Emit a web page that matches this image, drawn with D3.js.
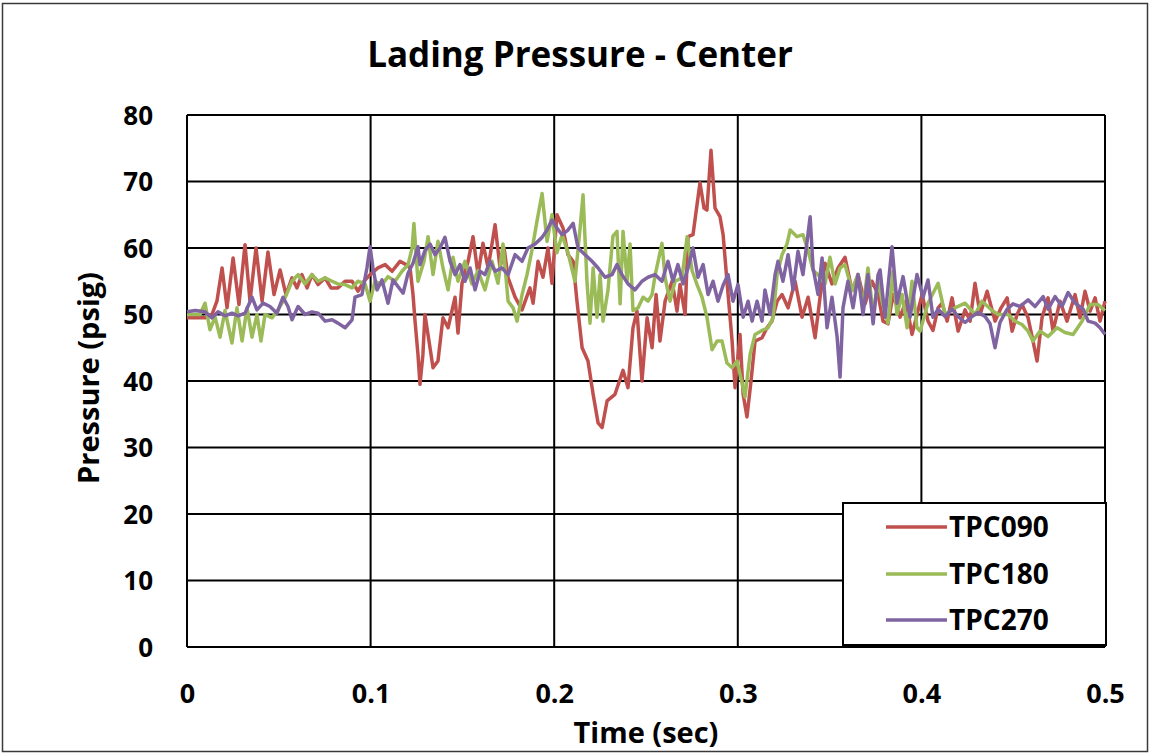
<!DOCTYPE html>
<html><head><meta charset="utf-8">
<script src="https://cdn.jsdelivr.net/npm/d3@7"></script>
<style>
html,body{margin:0;padding:0;background:#fff;}
text{font-family:"Open Sans",Lato,sans-serif;font-weight:bold;fill:#000;}
</style></head>
<body>
<svg id="chart" width="1151" height="754"></svg>
<script>
// time in milliseconds, value in psig
const timeMs090 = [0,4.4,9.8,13.6,16.3,19.1,21.8,25.1,28.3,31.6,34.3,37.6,40.9,44.1,47.4,50.7,53.9,57.2,59.9,62.6,65.4,68.1,71.4,75.2,78.4,82.2,86.1,89.9,93.1,96.4,99.7,104.0,107.9,111.7,116.0,119.3,121.5,123.1,124.2,125.8,126.9,128.5,129.6,131.8,134.0,136.7,139.4,142.2,146.0,147.6,149.8,153.1,155.8,158.5,161.2,164.0,167.8,170.5,172.7,174.9,178.7,182.5,186.8,188.5,191.2,193.9,196.6,198.8,201.5,204.8,207.5,210.3,212.4,215.2,218.4,221.2,223.9,226.1,228.8,233.1,237.5,240.2,242.9,245.1,247.8,250.6,253.3,255.5,257.6,260.4,264.2,266.9,268.5,271.3,272.9,275.6,279.4,281.6,283.2,285.4,287.6,290.3,292.0,294.1,296.9,298.5,301.2,302.9,305.0,307.2,309.4,313.2,315.9,318.6,321.4,324.1,327.4,331.2,335.0,338.3,342.1,344.8,347.5,351.3,354.6,358.4,362.2,365.5,369.3,373.1,376.4,379.1,381.8,384.6,388.4,391.6,394.9,397.6,400.4,403.6,406.3,409.1,411.3,414.0,416.7,420.0,423.8,426.5,429.2,432.0,435.8,440.1,443.4,446.7,449.4,452.1,454.8,458.1,460.8,463.0,465.7,469.0,471.7,475.5,479.3,483.7,486.4,489.1,491.9,494.6,497.3,500.0];
const valTPC090 = [49.5,49.5,49.5,50,52,57,51,58.5,51.5,60.5,52,60,52,59.4,53,56.7,53,55.5,54,56,54,56,54.5,55.5,54,54,55,55,53.5,55,56,57,57.5,56.5,58,57.5,57,53,49,44,39.5,44,50,46,42,43,49.5,48,52.6,47.2,54.7,58,61.7,56,60.7,57,63.5,57,60,55.5,52.6,50.7,54,51.7,58,55.6,60,54.7,65,63,59,58,52,45,43,38,33.7,33,37,38,41.6,39,48,50.5,40,49.5,45,53,46,52,55,50.5,54.5,50,61.7,62,69.8,66,65.7,74.7,66,64.7,62,55,46,39,47,38,34.6,40,46,46.5,48,49,52,53,51,55,49.6,52.6,46.5,52.6,57.7,54.6,57,58.6,53.6,56,51.6,55,53,49,48.6,53,49.6,52,47,50,53,49,47.6,51,51.7,49,52.5,47.5,50.7,49,54.7,50,53.5,49,51,52.5,47.5,50,51.5,49.5,46,43,49.5,52.5,47.5,52,49,53,49.5,53.5,50.5,52.5,49,52];

const timeMs180 = [0,7.1,9.8,12.5,15.3,18.0,20.7,24.5,27.2,30.0,32.7,35.4,38.1,40.3,42.5,46.3,49.6,53.4,57.2,60.5,64.3,68.1,71.4,75.2,79.0,82.2,86.1,89.9,93.1,97.0,99.7,102.4,106.2,109.5,113.3,117.1,120.4,122.6,123.6,125.8,126.9,129.1,131.3,134.0,136.7,139.4,142.2,144.9,147.6,151.4,155.2,158.5,162.3,166.1,169.4,172.1,174.9,177.6,179.8,182.5,185.2,187.9,190.6,193.4,196.1,198.8,201.5,204.3,207.5,211.3,214.1,215.7,217.9,219.5,221.2,223.3,225.0,226.6,229.3,232.0,234.2,235.9,237.5,239.7,241.3,242.9,245.7,248.4,251.1,253.3,254.9,258.7,260.4,263.1,265.8,269.6,272.4,275.1,277.8,280.5,283.2,286.0,288.7,291.4,294.1,296.9,299.6,302.3,303.9,306.7,309.4,313.2,316.5,319.2,321.4,324.1,326.8,328.5,332.3,335.5,338.3,341.0,343.7,347.5,350.2,353.0,355.7,358.4,362.2,365.5,368.2,370.9,373.7,376.4,378.6,381.8,384.6,386.7,389.5,392.2,394.9,397.6,399.3,403.6,409.1,412.9,418.3,423.8,429.2,433.0,438.5,441.8,447.2,451.0,454.8,458.1,460.8,464.6,469.0,473.9,478.2,482.6,487.5,491.9,496.2,500.0];
const valTPC180 = [50,50,51.7,47.7,49.6,46.6,50.6,45.7,51,46,51,46.6,50,46,50,49.5,50.7,52.5,55,56,54.6,56,55,55.5,55,54.6,54.5,54,55,54.6,52,55,54.5,55.7,55,56.5,57.5,60,63.7,55,56,58,61.7,56,61,57,53.7,58.6,55,58,54.6,56.6,53.7,58,54.7,60.6,52,51,49,53,56,59.7,64,68.2,61,65,59.3,62,59.3,55,63,68,54.7,48.7,57,49.6,56,49,53.7,61.8,62.5,51.6,62.5,55,60.6,50.6,51,52.6,52,53,55.8,60.7,55.5,52,55,55.5,61.7,56.6,54.5,52.6,49.6,44.7,46,46,42.7,42,43,39.7,37.6,44,47,47.6,48,49.5,56,59,60.6,62.7,61.7,62,59.6,56.6,56,54.6,58.6,54.6,57,57.5,53.6,56,51,57,50,55,52,48.7,56.5,50,53,48,55,48,47.5,51.7,54.7,50,51,51.7,50,52,50.6,50,50,49,48.5,47.5,46,47.5,46.7,48,47.3,47,49,51.5,51.5,50.6];

const timeMs270 = [0,4.4,9.8,13.6,16.9,20.7,24.5,27.8,31.6,35.4,38.1,41.4,45.2,49.0,52.3,55.0,57.2,60.5,64.3,68.1,71.4,75.2,79.0,82.2,86.1,89.9,91.5,95.3,98.0,99.7,101.3,103.5,106.2,109.5,112.2,114.9,117.7,120.4,123.1,125.8,126.9,129.6,132.4,135.1,137.8,140.5,143.3,146.0,148.7,151.4,154.2,156.9,159.6,162.3,165.0,167.8,171.6,174.9,178.7,182.5,185.7,189.6,193.4,196.1,198.8,201.5,204.3,207.5,210.3,213.0,216.8,220.6,223.9,227.7,231.5,234.2,236.9,240.2,244.0,247.8,251.1,254.9,258.7,262.0,264.7,267.4,270.2,272.9,275.6,278.3,281.1,283.8,286.5,289.2,292.0,294.7,297.4,300.1,302.9,305.6,307.8,310.5,313.2,314.8,317.6,320.3,321.9,324.6,327.4,330.1,332.8,335.5,339.4,341.0,343.7,345.9,348.6,351.3,354.1,355.7,357.3,360.0,362.8,365.5,368.2,370.9,373.7,376.4,377.5,380.2,384.0,386.7,390.0,393.8,397.6,400.9,403.6,406.3,409.1,412.9,416.7,420.0,423.8,427.6,430.8,434.7,437.4,440.1,442.8,446.7,449.9,453.7,458.1,461.9,466.3,469.0,472.8,476.6,479.9,483.7,488.1,490.8,494.6,497.3,500.0];
const valTPC270 = [50.4,50.6,50.4,49.5,50.4,49.8,50.2,49.8,50.2,52.6,50.7,51.7,51.2,50.2,52.6,51.2,49.2,51.2,50,50.4,50.2,49,49.2,48.7,48,49.2,52.6,53,57,60.2,57,53.7,55.2,51.7,55.2,54.2,53.2,56.2,57.7,60.2,57.5,59.6,60.6,59,60,61.6,58,56,57.5,55,57,53.7,56.5,56,58,56.5,57,56,59,58,60,60.6,61.6,62.7,64.2,63,62,62.7,63.7,60,59,58,57,55.6,56,57.5,56,54.6,53.7,55,55.6,56,55,58,55,57.5,54.6,57,60,55.6,57.5,53,55,52,54.4,56,52,54.5,49.6,52,49,52,49,53.7,50,56,58,55,59,53.7,59.5,56,64.7,57,53,58.5,48,52.6,46.6,40.6,51,55,51,56,50,56,48.6,56,56.7,49.6,60.2,51.7,55.7,49.6,56,52.6,55.2,49.6,50.8,49.7,50.8,49.7,48.8,49.7,50.3,49.7,48.6,45,48.8,50.8,51.6,51.2,52.2,51.2,52.7,50.8,52.7,51.2,53.3,51.7,50.8,49,48.7,48,47];

const seriesNames = ["TPC090","TPC180","TPC270"];
const seriesColors = ["#C0504D","#9BBB59","#8064A2"];
const xTicks = [0,0.1,0.2,0.3,0.4,0.5];
const yTicks = [0,10,20,30,40,50,60,70,80];
const titleText = "Lading Pressure - Center";
const xTitle = "Time (sec)";
const yTitle = "Pressure (psig)";

const seriesData = [
  {name: seriesNames[0], color: seriesColors[0], t: timeMs090, v: valTPC090},
  {name: seriesNames[1], color: seriesColors[1], t: timeMs180, v: valTPC180},
  {name: seriesNames[2], color: seriesColors[2], t: timeMs270, v: valTPC270}
];

const svg = d3.select("#chart");
const W = 1151, H = 754;
const plot = {left: 187, right: 1105, top: 115, bottom: 647};
const FONT = '"Open Sans",Lato,sans-serif';

svg.append("rect").attr("x",0).attr("y",0).attr("width",W).attr("height",H).attr("fill","#fff");
// outer chart border
svg.append("rect").attr("x",2.5).attr("y",3.5).attr("width",1145).attr("height",748)
  .attr("fill","none").attr("stroke","#3a3a3a").attr("stroke-width",1.5);

const x = d3.scaleLinear().domain([0,0.5]).range([plot.left, plot.right]);
const y = d3.scaleLinear().domain([0,80]).range([plot.bottom, plot.top]);

// gridlines
const g = svg.append("g");
g.selectAll("line.h").data(yTicks).join("line")
  .attr("x1",plot.left).attr("x2",plot.right)
  .attr("y1",d=>y(d)).attr("y2",d=>y(d))
  .attr("stroke","#000").attr("stroke-width",2);
g.selectAll("line.v").data(xTicks).join("line")
  .attr("y1",plot.top).attr("y2",plot.bottom)
  .attr("x1",d=>x(d)).attr("x2",d=>x(d))
  .attr("stroke","#000").attr("stroke-width",2);

// axes (labels only)
const yAxis = d3.axisLeft(y).tickValues(yTicks).tickSize(0).tickPadding(0).tickFormat(d3.format("d"));
const ya = svg.append("g").attr("transform",`translate(${plot.left-34},0)`).call(yAxis);
ya.select(".domain").remove();
ya.selectAll("text").attr("font-size",26).attr("dy","0.36em")
  .style("font-family",FONT).style("font-weight","bold").attr("fill","#000");

const xAxis = d3.axisBottom(x).tickValues(xTicks).tickSize(0).tickPadding(0).tickFormat(d=>d===0?"0":d3.format(".1f")(d));
const xa = svg.append("g").attr("transform",`translate(0,${plot.bottom+46})`).call(xAxis);
xa.select(".domain").remove();
xa.selectAll("text").attr("font-size",27).attr("dy","0.36em").attr("y",0)
  .style("font-family",FONT).style("font-weight","bold").attr("fill","#000");

// lines
const line = d3.line().x(d=>x(d[0]/1000)).y(d=>y(d[1])).curve(d3.curveLinear);
const lines = svg.append("g");
seriesData.forEach(s=>{
  const pts = s.t.map((t,i)=>[t, s.v[i]]);
  lines.append("path").datum(pts).attr("d",line).attr("fill","none")
    .attr("stroke",s.color).attr("stroke-width",3.5).attr("stroke-linejoin","round");
});

// titles
svg.append("text").attr("x",580).attr("y",67).attr("text-anchor","middle").attr("font-size",35).text(titleText);
svg.append("text").attr("x",646).attr("y",743).attr("text-anchor","middle").attr("font-size",29).text(xTitle);
svg.append("text").attr("transform","translate(99,378) rotate(-90)").attr("text-anchor","middle").attr("font-size",29).text(yTitle);

// legend
const lg = svg.append("g");
lg.append("rect").attr("x",843).attr("y",503).attr("width",263).attr("height",142)
  .attr("fill","#fff").attr("stroke","#000").attr("stroke-width",2);
const legendY = [527,574,620];
seriesData.forEach((s,i)=>{
  lg.append("line").attr("x1",886).attr("x2",947).attr("y1",legendY[i]).attr("y2",legendY[i])
    .attr("stroke",s.color).attr("stroke-width",3.5);
  lg.append("text").attr("x",949).attr("y",legendY[i]).attr("dy","0.36em").attr("font-size",28).text(s.name);
});
</script>
</body></html>
